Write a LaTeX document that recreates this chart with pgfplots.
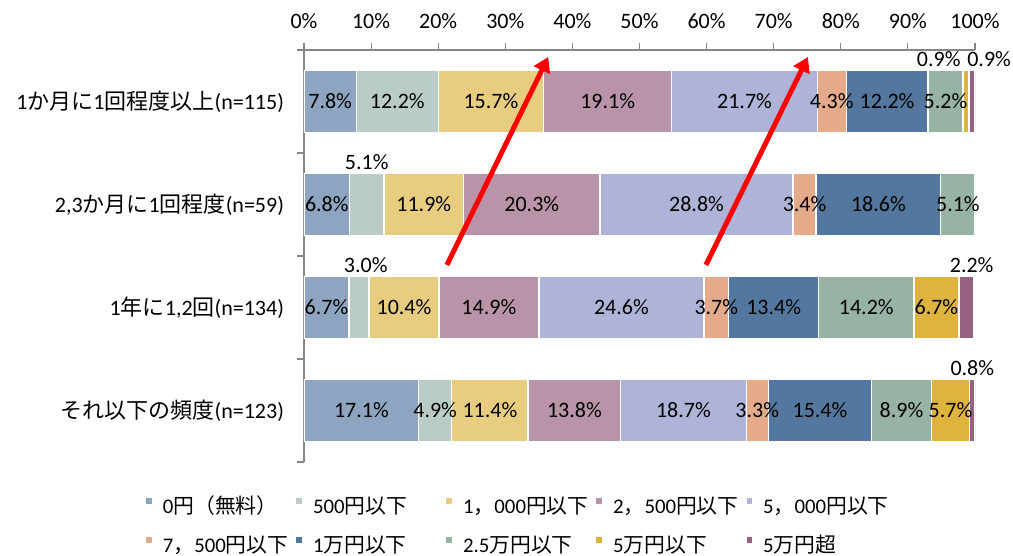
\documentclass[border=0pt]{standalone}
\usepackage{fontspec}
\setmainfont{Carlito}
\newfontfamily\jp{Noto Sans CJK JP}
\usepackage{pgfplots}
\pgfplotsset{compat=1.18}
\usepackage{pgfplotstable}
\usetikzlibrary{arrows.meta}

\definecolor{c1}{HTML}{8DA5C1}
\definecolor{c2}{HTML}{B9CDC4}
\definecolor{c3}{HTML}{E8CD80}
\definecolor{c4}{HTML}{B994A8}
\definecolor{c5}{HTML}{B0B3D8}
\definecolor{c6}{HTML}{E4AA8A}
\definecolor{c7}{HTML}{53779E}
\definecolor{c8}{HTML}{96B3A4}
\definecolor{c9}{HTML}{DEB33E}
\definecolor{c10}{HTML}{966280}
\definecolor{axgray}{HTML}{868686}

\newcommand\lbl{\fontsize{16.5pt}{19pt}\selectfont}
\newcommand\lgd{\fontsize{15.6pt}{18pt}\selectfont}

\pgfplotstableread{
y  a    b    c    d    e    f   g    h    i   j
3  7.8  12.2 15.7 19.1 21.7 4.3 12.2 5.2  0.9 0.9
2  6.8  5.1  11.9 20.3 28.8 3.4 18.6 5.1  0   0
1  6.7  3.0  10.4 14.9 24.6 3.7 13.4 14.2 6.7 2.2
0  17.1 4.9  11.4 13.8 18.7 3.3 15.4 8.9  5.7 0.8
}\shares

\pgfplotstableread{
x      y     lab
3.9    3     7.8
13.9   3     12.2
27.85  3     15.7
45.25  3     19.1
65.65  3     21.7
78.65  3     4.3
86.9   3     12.2
95.6   3     5.2
94.6   3.41  0.9
102.1  3.41  0.9
3.4    2     6.8
9.35   2.41  5.1
17.85  2     11.9
33.95  2     20.3
58.5   2     28.8
74.6   2     3.4
85.6   2     18.6
97.45  2     5.1
3.35   1     6.7
9.2    1.41  3.0
14.9   1     10.4
27.55  1     14.9
47.3   1     24.6
61.45  1     3.7
70     1     13.4
83.8   1     14.2
94.25  1     6.7
99.5   1.41  2.2
8.55   0     17.1
19.55  0     4.9
27.7   0     11.4
40.3   0     13.8
56.55  0     18.7
67.55  0     3.3
76.9   0     15.4
89.05  0     8.9
96.35  0     5.7
99.6   0.41  0.8
}\labels

\begin{document}
\begin{tikzpicture}
\useasboundingbox (-228pt,-70.5pt) rectangle (531.75pt,346.5pt);
\begin{axis}[
  at={(0,0)}, anchor=south west,
  scale only axis, width=503.25pt, height=309pt,
  xbar stacked, bar width=46.5pt,
  xmin=0, xmax=100, ymin=-0.5, ymax=3.5,
  axis x line=top, axis y line=left,
  axis line style={-, draw=axgray, line width=0.8pt},
  tick style={draw=axgray, line width=0.8pt},
  tick align=outside,
  major tick length=5.25pt,
  xtick={0,10,...,100},
  xticklabel={\pgfmathprintnumber{\tick}\%},
  /pgf/number format/assume math mode=true,
  xticklabel style={font=\lbl, text=black, yshift=7.5pt},
  ytick={-0.5,0.5,1.5,2.5,3.5},
  yticklabels={,,,,},
  extra y ticks={0,1,2,3},
  extra y tick labels={{{\jp それ以下の頻度}(n=123)},{1{\jp 年に}1,2{\jp 回}(n=134)},{2,3{\jp か月に}1{\jp 回程度}(n=59)},{1{\jp か月に}1{\jp 回程度以上}(n=115)}},
  extra y tick style={major tick length=0pt, yticklabel style={font=\lbl, text=black, xshift=-11.5pt}},
  legend columns=5,
  legend cell align=left,
  legend image code/.code={\fill[#1,draw=none] (0pt,3.2pt) rectangle (4.3pt,7.5pt);},
  legend style={at={(-0.2355,-0.0867)}, anchor=north west, draw=none, fill=none,
    inner sep=0pt, font=\lgd, row sep=14.25pt,
    nodes={text width=100pt, inner xsep=0pt, inner ysep=0pt, text height=11.5pt, text depth=3.5pt},
    /tikz/every odd column/.append style={column sep=8.25pt}},
]
\addplot[fill=c1, draw=white, line width=1pt] table[x=a, y=y]{\shares};
\addplot[fill=c2, draw=white, line width=1pt] table[x=b, y=y]{\shares};
\addplot[fill=c3, draw=white, line width=1pt] table[x=c, y=y]{\shares};
\addplot[fill=c4, draw=white, line width=1pt] table[x=d, y=y]{\shares};
\addplot[fill=c5, draw=white, line width=1pt] table[x=e, y=y]{\shares};
\addplot[fill=c6, draw=white, line width=1pt] table[x=f, y=y]{\shares};
\addplot[fill=c7, draw=white, line width=1pt] table[x=g, y=y]{\shares};
\addplot[fill=c8, draw=white, line width=1pt] table[x=h, y=y]{\shares};
\addplot[fill=c9, draw=white, line width=1pt] table[x=i, y=y]{\shares};
\addplot[fill=c10, draw=white, line width=1pt] table[x=j, y=y]{\shares};
\addlegendentry{0{\jp 円（無料）}}
\addlegendentry{500{\jp 円以下}}
\addlegendentry{1{\jp ，}000{\jp 円以下}}
\addlegendentry{2{\jp ，}500{\jp 円以下}}
\addlegendentry{5{\jp ，}000{\jp 円以下}}
\addlegendentry{7{\jp ，}500{\jp 円以下}}
\addlegendentry{1{\jp 万円以下}}
\addlegendentry{2.5{\jp 万円以下}}
\addlegendentry{5{\jp 万円以下}}
\addlegendentry{5{\jp 万円超}}
\end{axis}
\begin{axis}[
  at={(0,0)}, anchor=south west,
  scale only axis, width=503.25pt, height=309pt,
  xmin=0, xmax=100, ymin=-0.5, ymax=3.5,
  hide axis, clip=false,
]
\addplot[draw=none, mark=none, point meta=explicit symbolic,
  nodes near coords={\pgfplotspointmeta\%},
  every node near coord/.append style={anchor=center, font=\lbl, text=black, inner sep=0pt}]
  table[x=x, y=y, meta=lab]{\labels};
\draw[red, line width=3.75pt, -{Triangle[length=11pt,width=13pt]}] (axis cs:21.3,1.413) -- (axis cs:36.4,3.432);
\draw[red, line width=3.75pt, -{Triangle[length=11pt,width=13pt]}] (axis cs:59.9,1.413) -- (axis cs:75.1,3.432);
\end{axis}
\end{tikzpicture}
\end{document}
